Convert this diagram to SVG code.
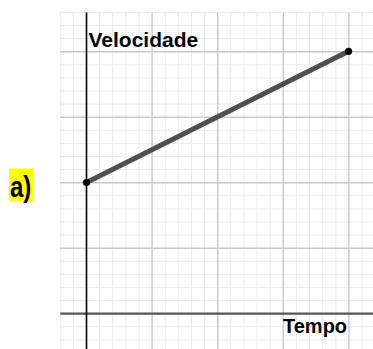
<svg xmlns="http://www.w3.org/2000/svg" width="373" height="349" viewBox="0 0 373 349">
<style>
.minor{stroke:#ebebeb;stroke-width:1;fill:none}
.major{stroke:#c9c9c9;stroke-width:1.4;fill:none}
.lbl{font-family:"Liberation Sans",Arial,sans-serif;font-weight:bold;fill:#000}
</style>
<rect width="373" height="349" fill="#fff"/>
<g id="grid">
<path class="minor" d="M60.3 12.4V349M73.4 12.4V349M99.6 12.4V349M112.7 12.4V349M125.9 12.4V349M139 12.4V349M165.2 12.4V349M178.3 12.4V349M191.5 12.4V349M204.6 12.4V349M230.8 12.4V349M243.9 12.4V349M257.1 12.4V349M270.2 12.4V349M296.4 12.4V349M309.5 12.4V349M322.7 12.4V349M335.8 12.4V349M362 12.4V349
M60.3 12.4H373M60.3 25.5H373M60.3 38.6H373M60.3 64.8H373M60.3 77.9H373M60.3 91H373M60.3 104.1H373M60.3 130.3H373M60.3 143.4H373M60.3 156.5H373M60.3 169.6H373M60.3 195.8H373M60.3 208.9H373M60.3 222H373M60.3 235.1H373M60.3 261.3H373M60.3 274.4H373M60.3 287.5H373M60.3 300.6H373M60.3 326.8H373M60.3 339.9H373"/>
<path class="major" d="M152.1 12.4V349M217.7 12.4V349M283.3 12.4V349M348.9 12.4V349M60.3 51.7H373M60.3 117.2H373M60.3 182.7H373M60.3 248.2H373"/>
</g>
<g id="axes">
<line x1="60.3" y1="313.7" x2="373" y2="313.7" stroke="#555" stroke-width="2.2"/>
<line x1="86.5" y1="12.4" x2="86.5" y2="349" stroke="#000" stroke-width="1.6"/>
</g>
<g id="connectors">
<line x1="86.5" y1="182.5" x2="348.6" y2="51.3" stroke="#4f4f4f" stroke-width="5"/>
</g>
<g id="start-point"><circle cx="86.5" cy="182.5" r="3.6" fill="#000"/></g>
<g id="end-point"><circle cx="348.6" cy="51.3" r="3.6" fill="#000"/></g>
<g id="label-velocidade"><text class="lbl" x="88.5" y="46.7" font-size="21">Velocidade</text></g>
<g id="label-tempo"><text class="lbl" x="283" y="333.2" font-size="20">Tempo</text></g>
<g id="label-a">
<rect x="9" y="168.5" width="24" height="33" fill="#ffff00"/>
<text class="lbl" x="10" y="196.8" font-size="24" transform="translate(10 196.8) scale(1 1.25) translate(-10 -196.8)">a)</text>
</g>
</svg>
